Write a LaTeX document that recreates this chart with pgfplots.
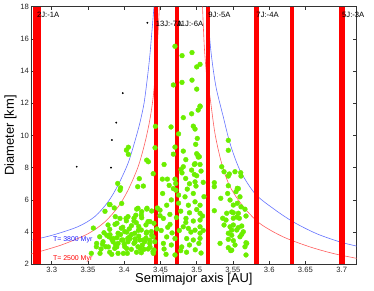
\documentclass[border=0pt]{standalone}
\usepackage{fontspec}
\setmainfont{Liberation Sans}
\usepackage{pgfplots}
\pgfplotsset{compat=1.18}
\definecolor{limeg}{RGB}{108,238,0}
\definecolor{cblue}{RGB}{100,115,255}
\definecolor{cred}{RGB}{255,95,95}
\definecolor{tblue}{RGB}{30,30,255}
\definecolor{bandred}{RGB}{255,0,0}
\begin{document}
\begin{tikzpicture}
\begin{axis}[name=ax, scale only axis, width=325.7bp, height=257.6bp,
  xmin=3.2714, xmax=3.7207, ymin=2, ymax=18,
  xtick={3.3,3.35,3.4,3.45,3.5,3.55,3.6,3.65,3.7},
  xticklabels={3.3,3.35,3.4,3.45,3.5,3.55,3.6,3.65,3.7},
  ytick={2,4,6,8,10,12,14,16,18},
  yticklabels={2,4,6,8,10,12,14,16,18},
  tick align=inside, major tick length=3.5bp,
  axis line style={black!80, line width=0.7bp},
  every tick/.style={black!80, line width=0.5bp},
  /pgf/number format/assume math mode=true,
  ticklabel style={font=\fontsize{7.7}{9}\selectfont, text=black!85},
  xticklabel style={inner sep=2.2bp},
  yticklabel style={inner sep=2bp},
  xlabel={Semimajor axis [AU]}, ylabel={Diameter [km]},
  label style={font=\fontsize{13}{15}\selectfont, inner sep=0pt},
  xlabel style={at={(axis description cs:0.5,-0.0718)}, anchor=base},
  ylabel style={at={(axis description cs:-0.0522,0.5)}, anchor=base},
  clip mode=individual,
]
% Yarkovsky curves
\addplot[cblue, line width=0.6bp, smooth] coordinates {
(3.2714,3.49)(3.3018,3.82)(3.3363,4.34)(3.3593,4.96)(3.3777,5.88)(3.3915,6.92)
(3.4052,8.27)(3.4145,9.61)(3.4214,10.75)(3.4273,11.99)(3.4320,13.6)(3.4352,14.9)
(3.4379,16.3)(3.4411,18.0)};
\addplot[cblue, line width=0.6bp, smooth] coordinates {
(3.5145,18)(3.5190,15.5)(3.5231,14.0)(3.5276,12.8)(3.5367,11.15)(3.5460,9.5)
(3.5597,7.84)(3.5804,6.39)(3.6057,5.46)(3.6333,4.63)(3.6655,3.90)(3.6977,3.39)(3.7207,3.13)};
\addplot[cred, line width=0.6bp, smooth] coordinates {
(3.2714,2.64)(3.3133,3.20)(3.3501,3.90)(3.3731,4.63)(3.3915,5.56)(3.4052,6.60)
(3.4190,8.04)(3.4283,9.50)(3.4352,10.94)(3.4400,12.4)(3.4435,14.2)(3.4462,16.0)(3.4485,18)};
\addplot[cred, line width=0.6bp, smooth] coordinates {
(3.5080,18)(3.5105,15.5)(3.5140,13.6)(3.5183,12.4)(3.5252,10.12)(3.5345,8.25)
(3.5460,6.82)(3.5643,5.58)(3.5873,4.53)(3.6195,3.70)(3.6563,3.08)(3.6885,2.67)(3.7207,2.37)};
% resonance bands
\addplot[bandred, line width=7.5bp] coordinates {(3.2795,2)(3.2795,18)};
\addplot[bandred, line width=4bp] coordinates {(3.4434,2)(3.4434,18)};
\addplot[bandred, line width=4bp] coordinates {(3.4729,2)(3.4729,18)};
\addplot[bandred, line width=4.2bp] coordinates {(3.5157,2)(3.5157,18)};
\addplot[bandred, line width=4.5bp] coordinates {(3.5822,2)(3.5822,18)};
\addplot[bandred, line width=4bp] coordinates {(3.6315,2)(3.6315,18)};
\addplot[bandred, line width=6bp] coordinates {(3.7004,2)(3.7004,18)};
% asteroids
\addplot[only marks, mark=*, mark size=2.4bp, mark options={draw=limeg, fill=limeg}] table {
a D
3.3574 4.25
3.3666 2.68
3.3546 2.68
3.3616 3.09
3.3662 3.71
3.3708 3.40
3.3721 3.96
3.3735 5.29
3.3745 3.09
3.3777 4.44
3.3781 3.08
3.3795 5.71
3.3800 4.17
3.3800 2.75
3.3804 3.84
3.3790 3.71
3.3828 2.62
3.3846 3.40
3.3850 3.60
3.3863 5.50
3.3869 2.99
3.3873 4.48
3.3877 4.96
3.3897 3.08
3.3915 3.93
3.3915 3.30
3.3915 2.68
3.3942 4.85
3.3960 4.24
3.3965 3.51
3.3965 5.78
3.3984 3.51
3.3988 2.68
3.4007 4.03
3.4007 3.09
3.4025 4.85
3.4034 4.00
3.4034 2.98
3.4043 2.68
3.4052 4.96
3.4052 3.40
3.4076 3.71
3.4080 3.60
3.4098 2.93
3.4135 4.86
3.4135 4.69
3.4135 3.30
3.4145 3.93
3.4149 3.39
3.4167 4.58
3.4172 5.43
3.4190 5.48
3.4190 3.09
3.4195 4.11
3.4214 3.51
3.4218 2.98
3.4236 5.06
3.4236 4.13
3.4236 2.72
3.4241 5.27
3.4241 4.89
3.4264 3.51
3.4273 2.93
3.4283 3.40
3.4305 3.93
3.4310 5.43
3.4310 4.00
3.4315 5.48
3.4328 4.65
3.4352 3.30
3.4356 4.65
3.4356 3.08
3.4374 4.03
3.4379 5.31
3.4379 3.80
3.4397 3.71
3.4397 2.78
3.4401 2.68
3.4410 4.55
3.4410 2.89
3.4457 5.50
3.4494 5.02
3.3900 3.65
3.3950 3.85
3.4000 3.25
3.4050 3.62
3.4100 3.85
3.4150 3.58
3.4200 3.75
3.4250 3.20
3.4300 3.62
3.4350 3.50
3.3880 3.22
3.3830 3.55
3.3760 3.80
3.3700 3.25
3.3980 4.30
3.4100 4.40
3.4200 4.35
3.4300 4.45
3.4030 4.70
3.3900 4.55
3.4420 3.40
3.4450 4.20
3.3620 3.30
3.3680 2.95
3.4170 2.75
3.4330 2.95
3.4070 4.20
3.4160 5.05
3.4430 10.57
3.4425 9.24
3.4057 9.27
3.4030 9.09
3.4057 8.83
3.4310 8.47
3.4333 8.37
3.4400 7.63
3.4208 7.32
3.3910 7.02
3.3950 6.75
3.4186 6.82
3.4264 6.86
3.3942 6.60
3.3804 5.71
3.4646 10.53
3.4953 10.58
3.4977 10.40
3.5008 9.82
3.4986 9.45
3.4700 9.28
3.4815 9.03
3.4678 8.84
3.5014 8.78
3.5036 8.68
3.4967 8.20
3.5046 8.20
3.4815 8.06
3.4930 7.85
3.4783 7.89
3.4797 7.68
3.5060 7.79
3.4967 7.58
3.4526 7.29
3.4595 7.29
3.4700 7.29
3.4710 7.02
3.4848 7.33
3.4977 7.12
3.4990 6.86
3.5090 7.09
3.4678 6.70
3.4714 6.60
3.4870 6.67
3.4953 6.40
3.4530 6.40
3.4839 6.19
3.4977 5.88
3.4885 5.67
3.5046 5.67
3.4586 5.67
3.4494 5.36
3.4852 4.85
3.4953 4.69
3.5046 4.75
3.4540 4.85
3.4632 4.48
3.4815 4.33
3.4885 4.23
3.4977 4.12
3.4586 3.70
3.4700 3.60
3.4862 3.60
3.4953 3.51
3.4540 3.30
3.4793 3.08
3.4577 2.62
3.4700 2.58
3.5000 8.87
3.5022 8.66
3.4977 8.25
3.5046 11.79
3.5046 5.17
3.5046 4.33
3.5046 3.93
3.5046 3.61
3.4815 11.11
3.4700 15.54
3.4798 14.96
3.4935 15.15
3.5000 14.26
3.5046 14.42
3.4678 13.14
3.4797 13.30
3.4935 13.44
3.5000 12.88
3.5046 11.83
3.5020 11.58
3.4930 11.35
3.4650 6.00
3.4750 5.80
3.4780 5.30
3.4900 5.20
3.5000 5.40
3.4630 5.10
3.4720 4.90
3.4850 4.60
3.4920 4.00
3.4760 4.10
3.4660 3.95
3.5030 3.30
3.4900 3.20
3.4650 3.20
3.4780 2.85
3.4980 2.90
3.4860 2.75
3.4550 2.95
3.5060 2.70
3.4510 4.10
3.4600 4.30
3.5100 6.20
3.5080 5.00
3.5090 4.10
3.5000 7.50
3.4900 7.00
3.4750 6.30
3.4620 6.90
3.4850 8.50
3.4750 10.10
3.4550 8.20
3.5436 9.70
3.5436 9.08
3.5345 8.06
3.5377 7.75
3.5450 7.61
3.5528 7.75
3.5607 7.69
3.5243 7.07
3.5243 6.82
3.5436 6.88
3.5560 6.72
3.5542 6.51
3.5332 6.10
3.5460 5.99
3.5505 5.68
3.5560 5.79
3.5243 5.33
3.5414 5.17
3.5505 5.20
3.5574 5.17
3.5666 5.42
3.5680 5.00
3.5358 4.86
3.5404 4.75
3.5505 4.86
3.5588 4.86
3.5377 4.44
3.5505 4.44
3.5621 4.38
3.5552 4.13
3.5643 4.02
3.5436 3.93
3.5597 3.71
3.5436 3.55
3.5505 3.47
3.5322 3.30
3.5528 3.20
3.5680 3.34
3.5666 3.09
3.5469 2.85
3.5680 2.58
3.5597 6.19
3.5427 6.40
3.5611 7.48
3.5436 7.48
3.5574 6.70
3.5483 5.25
3.5552 4.94
3.5460 4.33
3.5483 3.80
3.5611 5.57
3.5574 4.28
3.5483 4.12
3.5621 3.86
3.5436 3.03
3.5483 2.88
3.5690 3.30
};
\addplot[only marks, mark=*, mark size=0.7bp, black] coordinates {
(3.3345,8.06)(3.3818,8.00)(3.3830,9.72)(3.3890,10.80)(3.3980,12.63)(3.4320,17.00)};
% labels
\node[anchor=base west, inner sep=0pt, font=\fontsize{7.7}{9}\selectfont] at (axis cs:3.2795,17.3) {2J:-1A};
\node[anchor=base west, inner sep=0pt, font=\fontsize{7.7}{9}\selectfont] at (axis cs:3.4434,16.8) {13J:-7A};
\node[anchor=base west, inner sep=0pt, font=\fontsize{7.7}{9}\selectfont] at (axis cs:3.4729,16.8) {11J:-6A};
\node[anchor=base west, inner sep=0pt, font=\fontsize{7.7}{9}\selectfont] at (axis cs:3.5157,17.3) {9J:-5A};
\node[anchor=base west, inner sep=0pt, font=\fontsize{7.7}{9}\selectfont] at (axis cs:3.5822,17.3) {7J:-4A};
\node[anchor=base west, inner sep=0pt, font=\fontsize{7.7}{9}\selectfont] at (axis cs:3.7004,17.3) {5J:-3A};
\node[anchor=base west, inner sep=0pt, text=tblue, font=\fontsize{7}{8}\selectfont] at (axis cs:3.3015,3.43) {T= 3800 Myr};
\node[anchor=base west, inner sep=0pt, text=bandred, font=\fontsize{7}{8}\selectfont] at (axis cs:3.3015,2.22) {T= 2500 Myr};
\end{axis}
\pgfresetboundingbox
\path[use as bounding box] ([xshift=-31bp,yshift=-26.7bp]ax.south west) rectangle ([xshift=17.3bp,yshift=6.7bp]ax.north east);
\end{tikzpicture}
\end{document}
